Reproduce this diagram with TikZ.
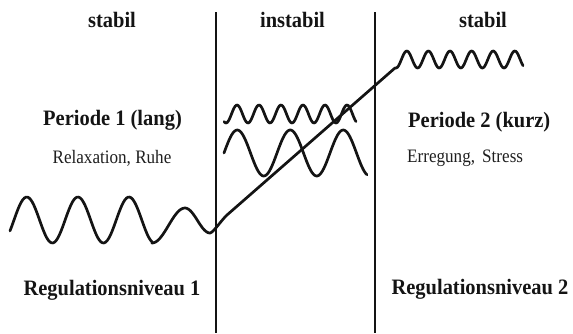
\documentclass[tikz,border=0pt]{standalone}
\usepackage{fontspec}
\usepackage{graphicx}
\setmainfont{Liberation Serif}
\newcommand\hdtxt[1]{\scalebox{0.93}[1]{#1}}
\newcommand\sbtxt[1]{\scalebox{0.9}[1]{#1}}
\begin{document}
\begin{tikzpicture}[x=1pt,y=-1pt,
  ink/.style={draw=black!92},
  wave/.style={ink, line width=2.7pt, line join=round, line cap=round},
  divider/.style={ink, line width=2.8pt},
  head/.style={font=\fontsize{22}{26}\selectfont\bfseries, text=black!92, inner sep=0pt, anchor=base},
  sub/.style={font=\fontsize{19}{22}\selectfont, text=black!88, inner sep=0pt, anchor=base}]
\useasboundingbox (0,0) rectangle (573,333);
% dividers
\draw[divider] (216,12) -- (216,333);
\draw[divider] (375,12) -- (375,333);
% labels
\node[head] (s1) at (112,27) {\hdtxt{stabil}};
\node[head] (s2) at (292.5,27) {\hdtxt{instabil}};
\node[head] (s3) at (483,27) {\hdtxt{stabil}};
\node[head] (p1) at (112.5,125) {\hdtxt{Periode 1 (lang)}};
\node[sub] (d1) at (112,163) {\sbtxt{Relaxation, Ruhe}};
\node[head, anchor=base west] (p2) at (408,127) {\hdtxt{Periode 2 (kurz)}};
\node[sub, anchor=base west] (d2) at (407,162) {\sbtxt{Erregung,\, Stress}};
\node[head] (r1) at (112,295) {\hdtxt{Regulationsniveau 1}};
\node[head] (r2) at (480,294) {\hdtxt{Regulationsniveau 2}};
% left wave, transition line and fast wave
\draw[wave] plot[domain=10:152, samples=90] (\x,{220 - 23*sin((\x-14)*7.0423)})
  -- plot[domain=152:185, samples=25] (\x,{225.5 + 17.5*cos((\x-152)*5.4545)})
  -- plot[domain=185:210, samples=25] (\x,{220.5 - 12.5*cos((\x-185)*7.2)})
  .. controls (213,233) and (222,219.4) .. (227,215)
  -- (395,68)
  -- plot[domain=396:523, samples=120] (\x,{59.5 + 8.5*cos((\x-396)*16.6667)});
% middle waves
\draw[wave] plot[domain=224:356, samples=120] (\x,{114 + 9*cos((\x-226)*16.3636)});
\draw[wave] plot[domain=224:367, samples=110] (\x,{153 - 23*sin((\x-224)*6.7925)});
\end{tikzpicture}
\end{document}
